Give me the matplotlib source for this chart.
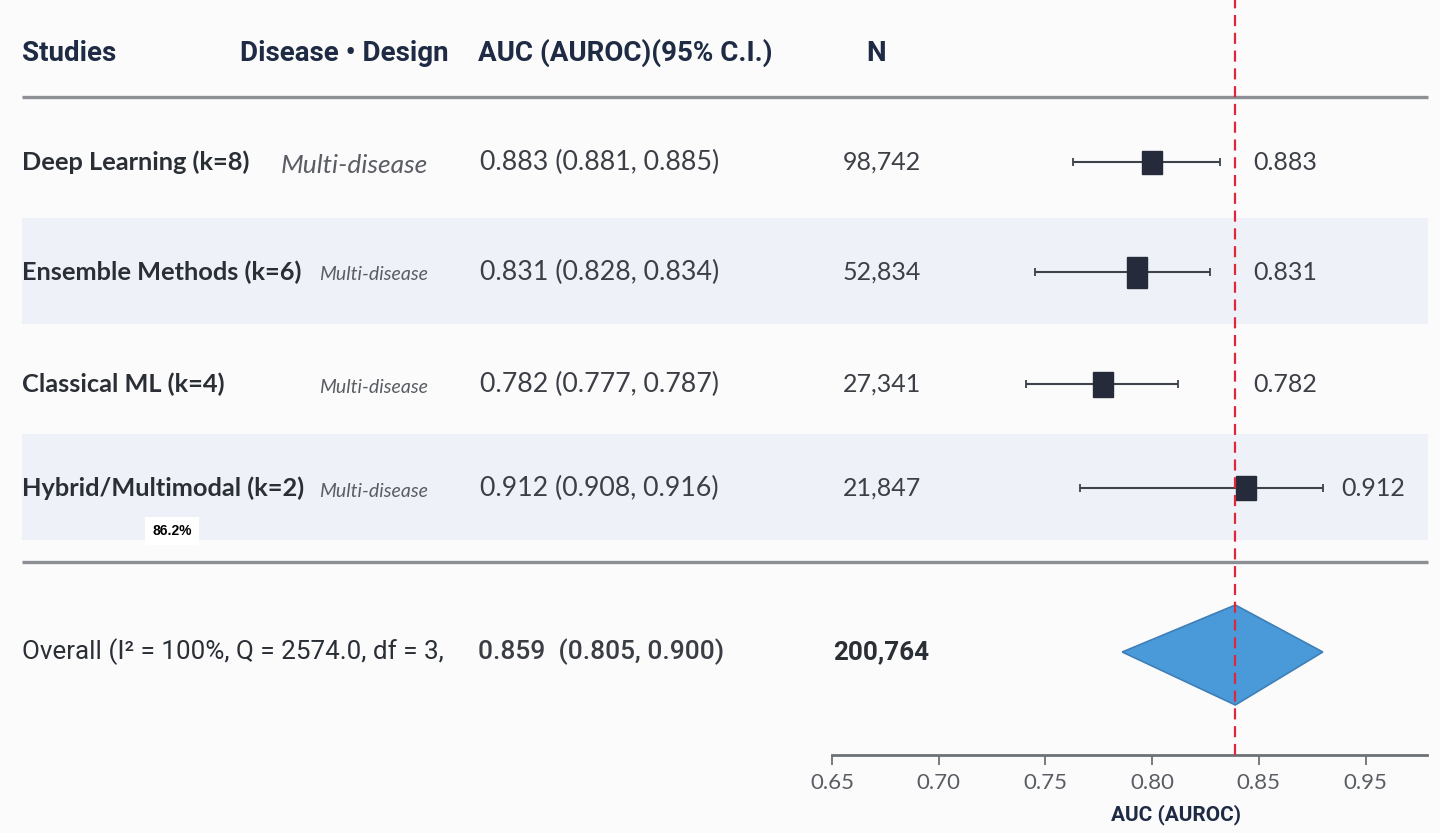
import matplotlib
matplotlib.use("Agg")
import matplotlib.pyplot as plt
from matplotlib.patches import Rectangle, Polygon

# ---- data ----
studies = ["Deep Learning (k=8)", "Ensemble Methods (k=6)", "Classical ML (k=4)", "Hybrid/Multimodal (k=2)"]
designs = ["Multi-disease", "Multi-disease", "Multi-disease", "Multi-disease"]
auc_text = ["0.883 (0.881, 0.885)", "0.831 (0.828, 0.834)", "0.782 (0.777, 0.787)", "0.912 (0.908, 0.916)"]
n_text = ["98,742", "52,834", "27,341", "21,847"]
right_labels = ["0.883", "0.831", "0.782", "0.912"]

# plotted positions on the AUC axis (as drawn in the reference)
point_est = [0.800, 0.793, 0.777, 0.844]
ci_low = [0.763, 0.745, 0.741, 0.766]
ci_high = [0.832, 0.827, 0.812, 0.880]

overall_label = "Overall (I\u00b2 = 100%, Q = 2574.0, df = 3,"
overall_auc = "0.859  (0.805, 0.900)"
overall_n = "200,764"
overall_est, overall_low, overall_high = 0.839, 0.786, 0.880
ref_line = 0.839

tick_pos = [0.65, 0.70, 0.75, 0.80, 0.85, 0.90]
tick_labels = ["0.65", "0.70", "0.75", "0.80", "0.85", "0.95"]

W, H = 1440, 833
BG = "#fbfbfc"
BAND = "#eef2f8"
INK = "#2a2e35"
HEAD = "#1f2b44"
NARROW = ["Roboto", "DejaVu Sans"]
BODY = ["Lato", "DejaVu Sans"]

fig = plt.figure(figsize=(W / 100, H / 100), dpi=100, facecolor=BG)

# background layer in pixel coordinates
bg = fig.add_axes([0, 0, 1, 1])
bg.set_xlim(0, W)
bg.set_ylim(H, 0)
bg.axis("off")
bg.set_facecolor(BG)

row_y = [162, 272, 384, 488]
for i, y in enumerate(row_y):
    if i % 2 == 1:
        bg.add_patch(Rectangle((22, y - 54), 1406, 106, color=BAND, lw=0, zorder=0))

for y in (97, 562):
    bg.plot([22, 1428], [y, y], color="#8c8f94", lw=2.4, solid_capstyle="butt", zorder=1)

# header
for x, txt in [(22, "Studies"), (240, "Disease \u2022 Design"), (478, "AUC (AUROC)(95% C.I.)"), (866, "N")]:
    bg.text(x, 53, txt, fontsize=20, fontweight="bold", color=HEAD, family=NARROW, va="center", ha="left")

# study rows
for i, y in enumerate(row_y):
    bg.text(22, y, studies[i], fontsize=18.3, fontweight="bold", color=INK, family=BODY, va="center")
    big = i == 0
    bg.text(428, y + 3, designs[i], fontsize=19 if big else 14, style="italic", color="#5a5d63",
            family=BODY, va="center", ha="right")
    bg.text(480, y, auc_text[i], fontsize=19.3, color="#3c3f45", family=BODY, va="center")
    bg.text(882, y, n_text[i], fontsize=18, color="#3c3f45", family=BODY, va="center", ha="center")

# odd little boxed label
bg.text(172, 531, "86.2%", fontsize=10, fontweight="bold", color="black", family=["Liberation Sans", "DejaVu Sans"],
        va="center", ha="center", bbox=dict(facecolor="white", edgecolor="none", pad=5))

# overall row
oy = 652
bg.text(22, oy, overall_label, fontsize=18.7, color=INK, family=NARROW, va="center")
bg.text(478, oy, overall_auc, fontsize=19, fontweight="medium", color="#3a3d44", family=NARROW, va="center")
bg.text(833, oy, overall_n, fontsize=18.7, fontweight="bold", color=INK, family=NARROW, va="center")

# forest axes: x from 0.65 at px 832, 0.05 per ~106.7 px
px_per = 106.7 / 0.05
x0_px, x1_px = 832, 1427
ax_bottom_px = 755
ax = fig.add_axes([x0_px / W, (H - ax_bottom_px) / H, (x1_px - x0_px) / W, ax_bottom_px / H])
ax.set_xlim(0.65, 0.65 + (x1_px - x0_px) / px_per)
ax.set_ylim(ax_bottom_px, 0)
ax.patch.set_alpha(0)
for s in ("top", "right", "left"):
    ax.spines[s].set_visible(False)
ax.spines["bottom"].set_color("#6d7075")
ax.spines["bottom"].set_linewidth(2)
ax.set_yticks([])
ax.set_xticks(tick_pos)
ax.set_xticklabels(tick_labels, fontsize=16, color="#5a5d63", family=BODY)
ax.tick_params(axis="x", length=7, width=1.3, color="#6d7075", pad=6)
ax.set_xlabel("AUC (AUROC)", fontsize=15, color=HEAD, family=NARROW, fontweight="bold")
ax.xaxis.set_label_coords((1176 - x0_px) / (x1_px - x0_px), -(815 - ax_bottom_px) / ax_bottom_px)
ax.xaxis.label.set_va("center")

box_w = 20 / px_per
box_h = [23, 31, 25, 24]
for i, y in enumerate(row_y):
    ax.errorbar([point_est[i]], [y], xerr=[[point_est[i] - ci_low[i]], [ci_high[i] - point_est[i]]],
                fmt="none", ecolor="#3d424b", elinewidth=1.5, capsize=3, capthick=1.3, zorder=3)
    ax.add_patch(Rectangle((point_est[i] - box_w / 2, y - box_h[i] / 2), box_w, box_h[i],
                           facecolor="#252b3b", edgecolor="#252b3b", zorder=4))
    lx = max(ci_high[i], ref_line) + 0.0085
    ax.text(lx, y, right_labels[i], fontsize=18, color="#3c3f45", family=BODY, va="center", ha="left", clip_on=False)

ax.add_patch(Polygon([(overall_low, oy), (overall_est, 605), (overall_high, oy), (overall_est, 705)],
                     closed=True, facecolor="#4a9ad9", edgecolor="#3e7fb8", lw=1.2, zorder=4))

ax.axvline(ref_line, color="#e0263a", lw=1.6, ls=(0, (5, 3)), zorder=5)

fig.savefig("out.png", dpi=100, facecolor=BG)
